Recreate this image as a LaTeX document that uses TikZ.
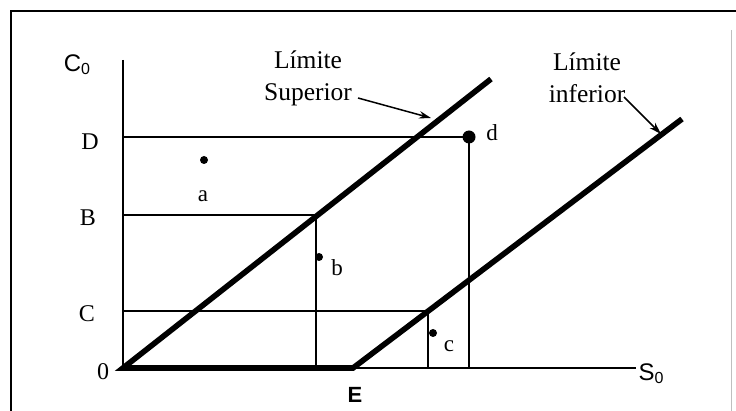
\documentclass[tikz,border=0pt]{standalone}
\usepackage{fontspec}
\setmainfont{Liberation Serif}
\newfontfamily\arialf{Liberation Sans}
\usetikzlibrary{arrows.meta}
\begin{document}
\begin{tikzpicture}[x=1pt,y=-1pt,
  thin line/.style={line width=1.6pt},
  thick line/.style={line width=5.6pt},
  serif label/.style={font=\fontsize{24}{28}\selectfont, inner sep=0pt},
  point label/.style={font=\fontsize{23}{27}\selectfont, inner sep=0pt},
  limit label/.style={font=\fontsize{25.5}{32}\selectfont, align=center, inner sep=0pt},
  pointer/.style={line width=1.5pt, -{Stealth[length=12pt,width=7.5pt]}},
  dot/.style={circle, fill=black, inner sep=0pt, minimum size=#1}]
\useasboundingbox (0,0) rectangle (736,411);
% frame
\draw[line width=1.6pt] (11,411) -- (11,11) -- (736,11);
\draw[line width=0.8pt, black!25] (731,30) -- (731,411);
% coordinates
\coordinate (O) at (123,368);
\coordinate (Ytop) at (123,60);
\coordinate (Xend) at (636,368);
\coordinate (E) at (353,368);
\coordinate (U) at (491,79);
\coordinate (L) at (682,119);
\coordinate (Dy) at (123,137);
\coordinate (By) at (123,215);
\coordinate (Bx) at (316,215);
\coordinate (Bb) at (316,368);
\coordinate (Cy) at (123,311);
\coordinate (Cx) at (428,311);
\coordinate (Cb) at (428,368);
\coordinate (Db) at (469,368);
% axes
\draw[thin line] (Ytop) -- (O) -- (Xend);
% guide lines
\node[dot=13pt] (d) at (469,137) {};
\draw[thin line] (Dy) -- (d.center) -- (Db);
\draw[thin line] (By) -- (Bx) -- (Bb);
\draw[thin line] (Cy) -- (Cx) -- (Cb);
% limit lines
\draw[thick line] (U) -- (O) -- (E) -- (L);
% points
\node[dot=8pt] (a) at (204,160) {};
\node[dot=8pt] (b) at (319,257) {};
\node[dot=8pt] (c) at (433,333) {};
\node[point label] (la) at (203,196) {a};
\node[point label] (lb) at (337,268) {b};
\node[point label] (lc) at (449,346) {c};
\node[point label] (ld) at (492,133) {d};
% axis labels
\node[inner sep=0pt, font=\arialf\fontsize{24}{28}\selectfont] (C0) at (77,65) {C\raisebox{-0.12em}{\fontsize{16}{19}\selectfont 0}};
\node[inner sep=0pt, font=\arialf\fontsize{24}{28}\selectfont] (S0) at (651,374) {S\raisebox{-0.12em}{\fontsize{16}{19}\selectfont 0}};
\node[inner sep=0pt, font=\arialf\bfseries\fontsize{22}{26}\selectfont] (El) at (355,395) {E};
\node[serif label] (lD) at (90,142) {D};
\node[serif label] (lB) at (88,218) {B};
\node[serif label] (lC) at (87,314) {C};
\node[serif label] (l0) at (103,372) {0};
% limit labels
\node[limit label] (sup) at (308,78) {Límite\\Superior};
\node[limit label] (inf) at (587,78) {Límite\\inferior};
\coordinate (supA) at (358,98);
\coordinate (supB) at (431,118);
\coordinate (infA) at (624,97);
\coordinate (infB) at (661,134);
\draw[pointer] (supA) -- (supB);
\draw[pointer] (infA) -- (infB);
\end{tikzpicture}
\end{document}
